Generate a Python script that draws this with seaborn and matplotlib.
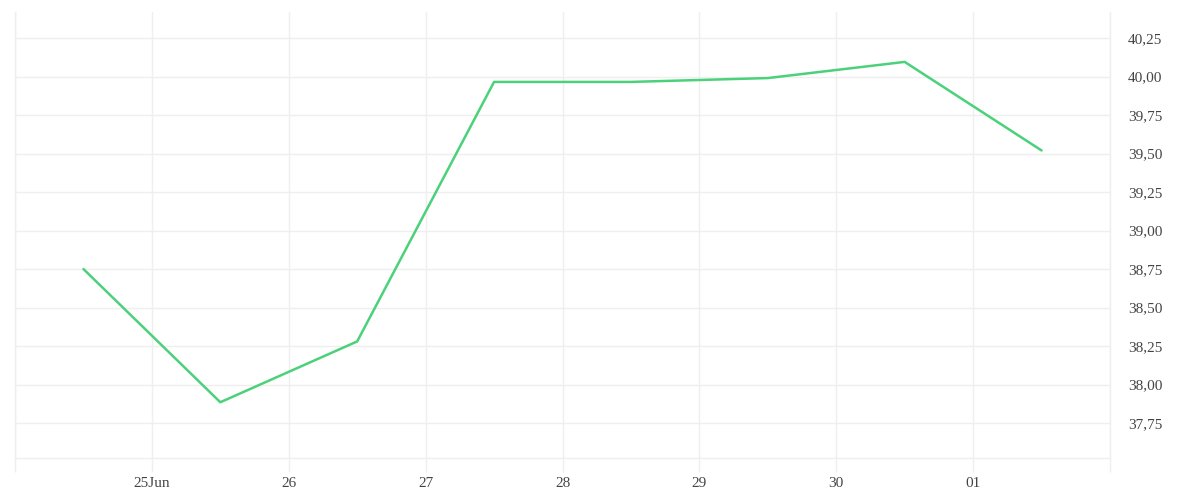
import matplotlib
matplotlib.use("Agg")
import matplotlib.pyplot as plt
import matplotlib.dates as mdates
import matplotlib.ticker as mticker
import seaborn as sns
import pandas as pd
import numpy as np

# Data
dates = ["2024-06-24 12:00", "2024-06-25 12:00", "2024-06-26 12:00", "2024-06-27 12:00",
         "2024-06-28 12:00", "2024-06-29 12:00", "2024-06-30 12:00", "2024-07-01 12:00"]
values = [38.75, 37.885, 38.28, 39.965, 39.965, 39.99, 40.095, 39.52]
tick_dates = ["2024-06-24", "2024-06-25", "2024-06-26", "2024-06-27", "2024-06-28",
              "2024-06-29", "2024-06-30", "2024-07-01", "2024-07-02"]
tick_labels = ["", "25Jun", "26", "27", "28", "29", "30", "01", ""]
y_ticks = [37.75, 38.00, 38.25, 38.50, 38.75, 39.00, 39.25, 39.50, 39.75, 40.00, 40.25]

df = pd.DataFrame({"date": pd.to_datetime(dates), "value": values})

sns.set_theme(style="white")
plt.rcParams["font.family"] = ["Liberation Serif", "DejaVu Sans"]

fig = plt.figure(figsize=(12, 5), dpi=100)
ax = fig.add_axes([15/1200, 42/500, (1110-15)/1200, (458-12)/500])

sns.lineplot(data=df, x="date", y="value", ax=ax, color="#4bd17a", linewidth=1.8)

grid_c = "#efefef"
ax.set_xlim(pd.Timestamp("2024-06-24"), pd.Timestamp("2024-07-02"))
ax.set_ylim(37.523, 40.419)

xt = [mdates.date2num(pd.Timestamp(d)) for d in tick_dates]
ax.xaxis.set_major_locator(mticker.FixedLocator(xt))
ax.xaxis.set_major_formatter(mticker.FixedFormatter(tick_labels))
ax.yaxis.set_major_locator(mticker.FixedLocator(y_ticks))
ax.yaxis.set_major_formatter(mticker.FuncFormatter(lambda v, p: f"{v:.2f}".replace(".", ",")))
ax.yaxis.tick_right()

ax.grid(True, color=grid_c, linewidth=1)
for s in ["left", "right", "bottom"]:
    ax.spines[s].set_color(grid_c)
    ax.spines[s].set_linewidth(1)
ax.spines["top"].set_visible(False)

ax.tick_params(axis="x", length=10, width=1, color=grid_c, labelsize=11, labelcolor="#444444", pad=4, bottom=True)
ax.tick_params(axis="y", length=0, labelsize=11, labelcolor="#444444", pad=13, right=True, left=False)

ax.set_xlabel("")
ax.set_ylabel("")

fig.savefig("out.png", dpi=100, facecolor="white")
